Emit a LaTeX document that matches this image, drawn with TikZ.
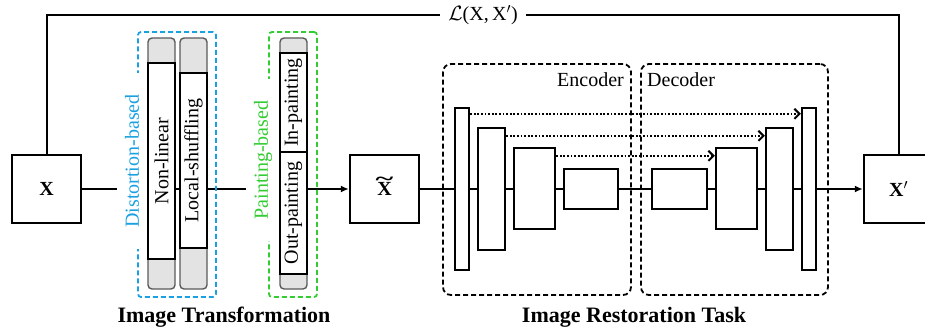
\documentclass[tikz,border=0pt]{standalone}
\usepackage{fontspec}
\setmainfont{Liberation Serif}
\usetikzlibrary{arrows.meta,backgrounds}
\definecolor{distblue}{HTML}{1BA1E2}
\definecolor{paintgreen}{HTML}{33CC33}
\definecolor{bargrey}{HTML}{E3E3E3}
\definecolor{baredge}{HTML}{5A5A5A}

% bold X with a wide tilde above it
\newcommand{\tildeX}{\ooalign{X\cr\hidewidth\raisebox{10pt}{\scalebox{1.7}[1]{\~{}}}\hidewidth\cr}}

\begin{document}
\begin{tikzpicture}[x=1pt,y=-1pt,
  every node/.style={font=\fontsize{20}{24}\selectfont, inner sep=0pt},
  databox/.style={draw, line width=2.4pt, fill=white, minimum width=69pt, minimum height=68pt},
  bar/.style={draw=baredge, line width=1.4pt, fill=bargrey, rounded corners=4pt,
              minimum width=27pt, minimum height=251pt},
  op/.style={draw, line width=2.4pt, fill=white, minimum width=27pt},
  layerbox/.style={draw, line width=2.4pt, fill=white},
  group/.style={draw, line width=1.8pt, dash pattern=on 5pt off 3pt, rounded corners=3pt},
  netgroup/.style={draw, line width=1.8pt, dash pattern=on 5pt off 3pt, rounded corners=8pt,
                   minimum height=231pt},
  grouplabel/.style={rotate=90, fill=white, inner xsep=21pt, inner ysep=8pt},
  flow/.style={line width=2pt},
  arrowflow/.style={line width=2pt, -{Latex[length=8pt,width=7pt]}},
  skip/.style={line width=2pt, dash pattern=on 1.8pt off 1.8pt,
               -{Straight Barb[length=5pt,width=10pt,line width=2pt]}},
  title/.style={font=\fontsize{22}{26}\selectfont\bfseries}
]
\useasboundingbox (0,0) rectangle (925,331);
\clip (0,0) rectangle (925,331);

% input, transformed input and reconstruction
\node[databox] (X)  at (46.5,189)  {\textbf{X}};
\node[databox] (Xt) at (384.5,189) {\textbf{\tildeX}};
\node[databox] (Xp) at (898.5,189) {\textbf{X}$^{\prime}$};

% transformation groups
\node[group, draw=distblue, minimum width=78pt, minimum height=265pt] (dgroup) at (177,164.5) {};
\node[group, draw=paintgreen, minimum width=48pt, minimum height=265pt] (pgroup) at (293,164.5) {};
\node[grouplabel, text=distblue] (dlabel) at (132,161) {Distortion-based};
\node[grouplabel, text=paintgreen, inner xsep=22pt] (plabel) at (263,160) {Painting-based};

% transformation bars
\node[bar] (nlbar) at (161.5,163.5) {};
\node[bar] (lsbar) at (193.5,163.5) {};
\node[bar] (pbar)  at (293.5,163.5) {};
\node[op, minimum height=196pt] (nl) at (161.5,161) {};
\node[rotate=90] (nltext) at (nl.center) {Non-linear};
\node[op, minimum height=175pt] (ls) at (193.5,160.5) {};
\node[rotate=90] (lstext) at (ls.center) {Local-shuffling};
\node[op, minimum height=99pt] (inp) at (293.5,102.5) {};
\node[rotate=90] (inptext) at (inp.center) {In-painting};
\node[op, minimum height=122pt] (outp) at (293.5,213) {};
\node[rotate=90] (outptext) at (outp.center) {Out-painting};

% encoder / decoder groups
\node[netgroup, minimum width=188pt] (encgroup) at (537,179.5) {};
\node[netgroup, minimum width=187pt] (decgroup) at (734.5,179.5) {};
\node[anchor=east] (enc) at (624,80) {Encoder};
\node[anchor=west] (dec) at (647,80) {Decoder};

% encoder layers
\node[layerbox, minimum width=14pt, minimum height=162pt] (E1) at (462,189) {};
\node[layerbox, minimum width=27pt, minimum height=122pt] (E2) at (491.5,189) {};
\node[layerbox, minimum width=41pt, minimum height=81pt]  (E3) at (534.5,188.5) {};
\node[layerbox, minimum width=54pt, minimum height=40pt]  (E4) at (591,189) {};
% decoder layers
\node[layerbox, minimum width=55pt, minimum height=40pt]  (D1) at (679.5,189) {};
\node[layerbox, minimum width=41pt, minimum height=81pt]  (D2) at (736.5,188.5) {};
\node[layerbox, minimum width=27pt, minimum height=122pt] (D3) at (779.5,189) {};
\node[layerbox, minimum width=14pt, minimum height=162pt] (D4) at (809,189) {};

% skip connections
\coordinate (s1) at ([yshift=-7pt]E1.north east);
\coordinate (s2) at ([yshift=-9pt]E2.north east);
\coordinate (s3) at ([yshift=-9pt]E3.north east);
\draw[skip] (s1) -- (s1 -| D4.west);
\draw[skip] (s2) -- (s2 -| D3.west);
\draw[skip] (s3) -- (s3 -| D2.west);

% loss
\node[inner xsep=8pt] (loss) at (483,15) {$\mathcal{L}$(X,\,X$^{\prime}$)};
\draw[flow] (X.north) |- (loss.west);
\draw[flow] (loss.east) -| (Xp.north);

% titles
\node[title] (t1) at (224,317) {Image Transformation};
\node[title] (t2) at (634,317) {Image Restoration Task};

% main data flow, passing behind the blocks
\begin{pgfonlayer}{background}
  \draw[arrowflow] (X.east) -- (Xt.west);
  \draw[flow] (Xt.east) -- (D4.east);
  \draw[arrowflow] (D4.east) -- (Xp.west);
\end{pgfonlayer}
\end{tikzpicture}
\end{document}
